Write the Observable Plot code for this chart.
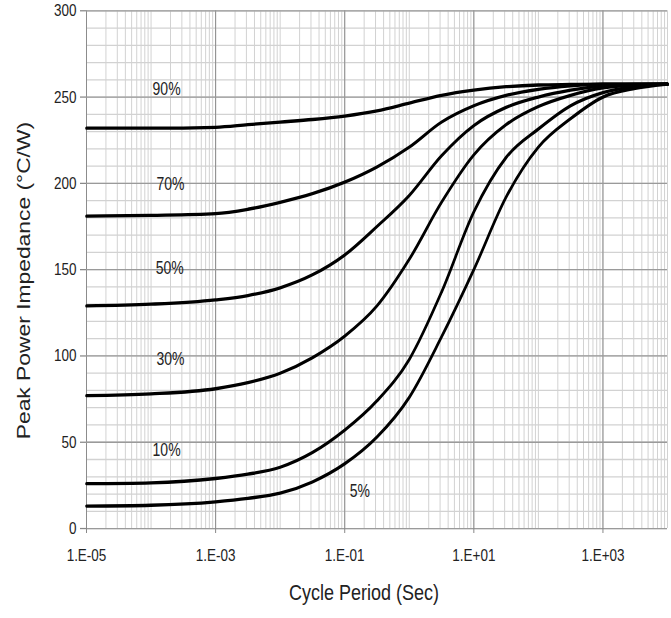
<!DOCTYPE html>
<html><head><meta charset="utf-8">
<script src="https://cdn.jsdelivr.net/npm/d3@7"></script>
<script src="https://cdn.jsdelivr.net/npm/@observablehq/plot@0.6"></script>
<style>body{margin:0;background:#fff}#chart{width:671px;height:618px;overflow:hidden}</style>
</head><body><div id="chart"></div>
<script>
// ---- data ----
const periods = [1e-5, 1e-4, 1e-3, 3.16e-3, 1e-2, 3.16e-2, 1e-1, 3.16e-1, 1, 3.16, 10, 31.6, 100, 316, 1000, 3160, 10000];
const z90 = [232, 232, 232.5, 234, 235.5, 237, 239, 242, 246.5, 251, 254, 256, 257, 257.3, 257.5, 257.5, 257.5];
const z70 = [181, 181.5, 182.5, 185, 189, 194, 200.7, 209.5, 221, 235.5, 245, 251, 254.5, 256.5, 257.5, 257.5, 257.5];
const z50 = [129, 130, 132.5, 135, 139.5, 147, 158.5, 175, 193, 216, 233.5, 244, 250, 254, 256.5, 257.3, 257.5];
const z30 = [77, 78, 81, 84.5, 90, 99, 111.5, 129, 156, 189, 216.5, 234, 244.5, 251, 255.3, 257, 257.5];
const z10 = [26, 26.5, 29, 31.5, 35.5, 44, 57, 74, 98, 137, 183.5, 215, 231.5, 245, 252.6, 256, 257.5];
const z5  = [13, 13.5, 15.5, 17.5, 20.5, 27, 37.5, 53, 76, 111, 150, 192, 221, 237.5, 250, 255, 257.5];
const seriesNames = ["90%", "70%", "50%", "30%", "10%", "5%"];
const seriesValues = [z90, z70, z50, z30, z10, z5];

const labelText = ["90%", "70%", "50%", "30%", "10%", "5%"];
const labelX = [1.74e-4, 2.0e-4, 1.95e-4, 2.0e-4, 1.74e-4, 0.171];
const labelY = [254.6, 199.3, 151, 98.3, 45.2, 21.7];

const xTicks = [1e-5, 1e-3, 1e-1, 1e1, 1e3];
const xTickLabels = ["1.E-05", "1.E-03", "1.E-01", "1.E+01", "1.E+03"];
const yTicks = [0, 50, 100, 150, 200, 250, 300];
const xTitle = "Cycle Period (Sec)";
const yTitle = "Peak Power Impedance (°C/W)";

// ---- build tables ----
const rows = [];
seriesNames.forEach((s, k) => periods.forEach((p, i) => rows.push({series: s, period: p, z: seriesValues[k][i]})));
const labelRows = labelText.map((t, i) => ({t, x: labelX[i], y: labelY[i]}));
const xLabelMap = new Map(xTicks.map((d, i) => [d, xTickLabels[i]]));

const minorX = [];
for (let d = -5; d < 4; d++) for (let m = 1; m < 10; m++) minorX.push(m * Math.pow(10, d));
minorX.push(1e4);
const minorY = d3.range(0, 301, 10);

const W = 671, H = 487, FULLH = 618;
const font = "'Liberation Sans', Arial, Helvetica, sans-serif";

const plot = Plot.plot({
  width: W, height: H,
  marginLeft: 86, marginRight: 4, marginTop: 8, marginBottom: 71,
  style: {fontFamily: font, fontSize: "13.5px", background: "#fff", color: "#222", overflow: "visible"},
  x: {type: "log", domain: [1e-5, 1e4]},
  y: {domain: [0, 300]},
  marks: [
    Plot.ruleX(minorX, {stroke: "#d2d2d2", strokeWidth: 1}),
    Plot.ruleY(minorY, {stroke: "#d2d2d2", strokeWidth: 1}),
    Plot.ruleX(xTicks, {stroke: "#8c8c8c", strokeWidth: 1}),
    Plot.ruleY(yTicks, {stroke: "#9a9a9a", strokeWidth: 1}),
    Plot.axisX({ticks: xTicks, tickFormat: d => xLabelMap.get(d), tickSize: 4, tickPadding: 12, fontSize: 13.5, stroke: "#888", fill: "#222", label: null}),
    Plot.axisY({ticks: yTicks, tickSize: 6, tickPadding: 4, fontSize: 13.5, stroke: "#888", fill: "#222", label: null}),
    Plot.line(rows, {x: "period", y: "z", z: "series", stroke: "#000", strokeWidth: 2.6, curve: "monotone-x"}),
    Plot.text(labelRows, {x: "x", y: "y", text: "t", fontSize: 14, fill: "#222"}),
    Plot.text([xTitle], {frameAnchor: "bottom", dy: 56, dx: -13, fontSize: 18, fill: "#222"}),
    Plot.text([yTitle], {frameAnchor: "left", textAnchor: "middle", rotate: -90, dx: -62, dy: 8.6, fontSize: 18, fill: "#222"})
  ]
});

// the reference image is stretched vertically; mimic that stretch
plot.setAttribute("height", FULLH);
plot.setAttribute("preserveAspectRatio", "none");
plot.style.width = W + "px";
plot.style.height = FULLH + "px";
plot.style.maxWidth = "none";
document.getElementById("chart").appendChild(plot);
</script>
</body></html>
